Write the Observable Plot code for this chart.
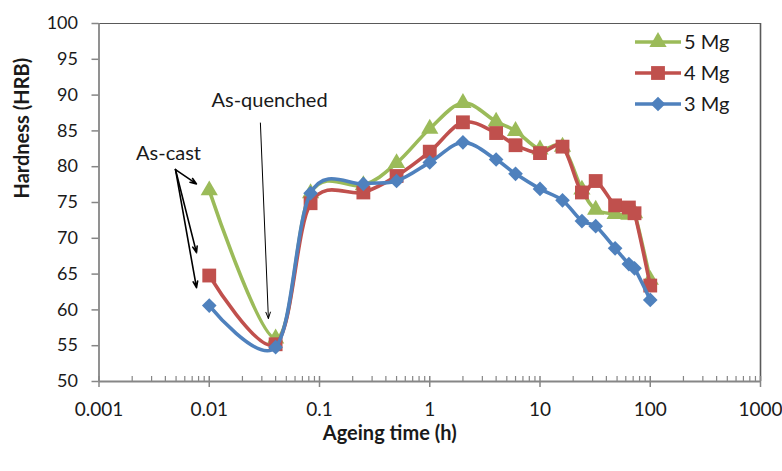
<!DOCTYPE html>
<html><head><meta charset="utf-8">
<script src="https://cdn.jsdelivr.net/npm/d3@7"></script>
<script src="https://cdn.jsdelivr.net/npm/@observablehq/plot@0.6"></script>
<style>
body{margin:0;background:#fff;}
#chart{position:relative;width:782px;height:471px;font-family:Lato,"Open Sans",sans-serif;}
#legend{position:absolute;left:628px;top:26px;}
</style></head><body>
<div id="chart"></div>
<script>
// Ageing times (h)
const times = [0.01, 0.04, 0.083, 0.25, 0.5, 1, 2, 4, 6, 10, 16, 24, 32, 48, 64, 72, 100];
// Hardness (HRB)
const mg5 = [76.7, 56.0, 76.3, 77.4, 80.5, 85.3, 88.9, 86.3, 85.0, 82.4, 82.8, 76.8, 74.0, 73.4, 73.3, 73.5, 64.2];
const mg4 = [64.8, 55.2, 74.9, 76.4, 78.7, 82.1, 86.2, 84.7, 83.0, 81.9, 82.8, 76.4, 78.0, 74.6, 74.3, 73.5, 63.4];
const mg3 = [60.6, 54.8, 76.3, 77.6, 78.0, 80.6, 83.4, 81.0, 79.0, 76.9, 75.3, 72.4, 71.7, 68.6, 66.4, 65.8, 61.4];

const seriesNames = ["5 Mg", "4 Mg", "3 Mg"];
const seriesColors = ["#9BBB59", "#C0504D", "#4F81BD"];
const seriesSymbols = ["triangle", "square", "diamond2"];
const seriesR = [6.4, 7.8, 6.6];

const xTicks = [0.001, 0.01, 0.1, 1, 10, 100, 1000];
const xTickLabels = ["0.001", "0.01", "0.1", "1", "10", "100", "1000"];
const yTicks = [50, 55, 60, 65, 70, 75, 80, 85, 90, 95, 100];
const minorMultipliers = [2, 3, 4, 5, 6, 7, 8, 9];

// annotations (data coordinates)
const annoLabels = ["As-quenched", "As-cast"];
const annoX = [0.0352, 0.00427];
const annoY = [89.2, 81.9];
const arrowX1 = [0.0291, 0.00494, 0.00494, 0.00494];
const arrowY1 = [86.1, 79.6, 79.6, 79.6];
const arrowX2 = [0.0344, 0.00766, 0.00766, 0.00766];
const arrowY2 = [58.8, 77.6, 68.0, 63.1];
const arrowW = [1, 1.6, 1.6, 1.6];

const seriesValues = [mg5, mg4, mg3];
const xMinor = xTicks.slice(0, -1).flatMap(d => minorMultipliers.map(k => k * d));
const annos = annoLabels.map((label, i) => ({label, x: annoX[i], y: annoY[i]}));
const arrows = arrowX1.map((x1, i) => ({x1, y1: arrowY1[i], x2: arrowX2[i], y2: arrowY2[i], w: arrowW[i]}));

const seriesMarks = seriesNames.flatMap((name, i) => {
  const data = times.map((t, j) => ({t, v: seriesValues[i][j]}));
  return [
    Plot.line(data, {x: "t", y: "v", stroke: seriesColors[i], strokeWidth: 3.6, curve: "cardinal", tension: 0}),
    Plot.dot(data, {x: "t", y: "v", symbol: seriesSymbols[i], r: seriesR[i], fill: seriesColors[i], stroke: "none"})
  ];
});

const chart = Plot.plot({
  width: 782,
  height: 471,
  marginLeft: 98.5,
  marginRight: 22,
  marginTop: 23,
  marginBottom: 90,
  style: {fontFamily: "Lato, 'Open Sans', sans-serif", background: "#fff"},
  x: {type: "log", domain: [0.001, 1000]},
  y: {domain: [50, 100]},
  marks: [
    Plot.ruleY([100], {stroke: "#595959", strokeWidth: 1.2}),
    Plot.ruleX([1000], {stroke: "#595959", strokeWidth: 1.6}),
    Plot.axisY(yTicks, {tickSize: 7, tickPadding: 14, stroke: "#868686", strokeWidth: 1.5, fill: "#1a1a1a", fontSize: 18, label: null}),
    Plot.axisX(xTicks, {tickSize: 11, dy: -5, tickPadding: 15, tickFormat: d => xTickLabels[xTicks.indexOf(d)], stroke: "#868686", strokeWidth: 1.5, fill: "#1a1a1a", fontSize: 19, label: null}),
    Plot.axisX(xMinor, {tickSize: 5, dy: -5, tickFormat: () => "", stroke: "#868686", strokeWidth: 1.2, label: null}),
    Plot.ruleX([0.001], {stroke: "#868686", strokeWidth: 1.8}),
    Plot.ruleY([50], {stroke: "#868686", strokeWidth: 1.8}),
    ...seriesMarks,
    Plot.arrow(arrows, {x1: "x1", y1: "y1", x2: "x2", y2: "y2", stroke: "#000", strokeWidth: "w", headLength: 10, headAngle: 40}),
    Plot.text(annos, {x: "x", y: "y", text: "label", fontSize: 20, fill: "#1a1a1a"}),
    Plot.text(["Ageing time (h)"], {frameAnchor: "bottom", dx: -40, dy: 58, fontWeight: "bold", fontSize: 20, fill: "#1a1a1a"}),
    Plot.text(["Hardness (HRB)"], {frameAnchor: "left", rotate: -90, dx: -76.5, dy: -4, fontWeight: "bold", fontSize: 20, fill: "#1a1a1a"})
  ]
});
document.getElementById("chart").appendChild(chart);

// legend (inside plot area, top right)
const symbolMap = {triangle: d3.symbolTriangle, square: d3.symbolSquare, diamond2: d3.symbolDiamond2};
const leg = d3.select("#chart").append("svg").attr("id", "legend").attr("width", 140).attr("height", 100);
seriesNames.forEach((name, i) => {
  const g = leg.append("g").attr("transform", `translate(0,${16 + i * 31})`);
  g.append("line").attr("x1", 7).attr("x2", 53).attr("stroke", seriesColors[i]).attr("stroke-width", 3.6);
  g.append("path").attr("transform", "translate(30,0)")
    .attr("d", d3.symbol(symbolMap[seriesSymbols[i]], Math.PI * seriesR[i] * seriesR[i])())
    .attr("fill", seriesColors[i]);
  g.append("text").attr("x", 56).attr("dy", "0.35em").attr("font-size", 20)
    .attr("font-family", "Lato, 'Open Sans', sans-serif").attr("fill", "#1a1a1a").text(name);
});
</script>
</body></html>
